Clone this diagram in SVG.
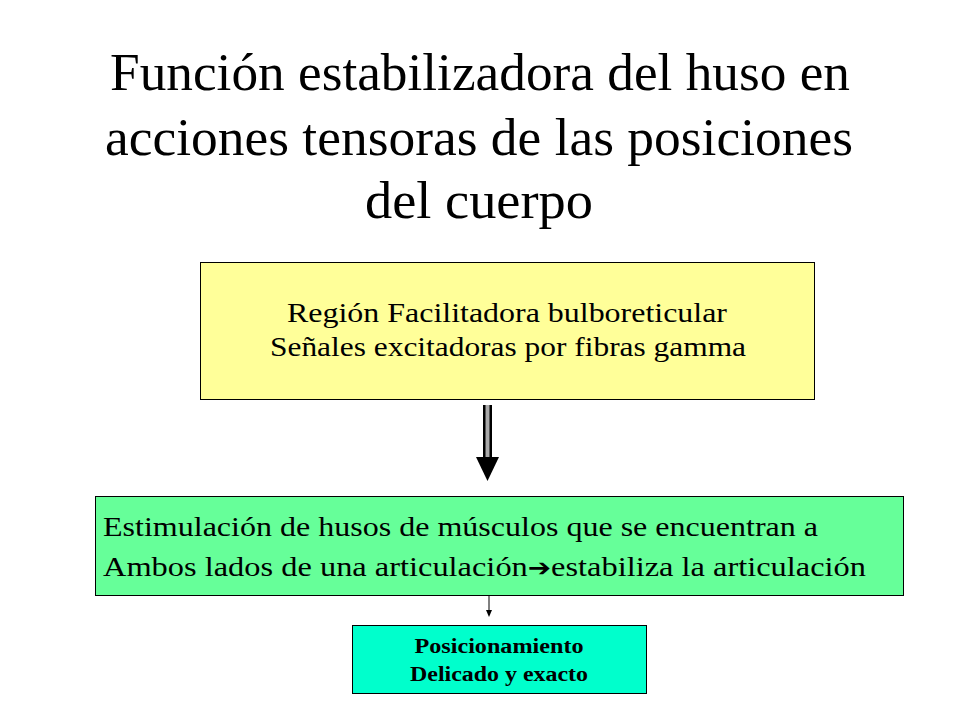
<svg xmlns="http://www.w3.org/2000/svg" width="960" height="720" viewBox="0 0 960 720">
<style>
.t{font-family:"Liberation Serif",serif;fill:#000}
.b{stroke:#000;stroke-width:1}
</style>
<rect width="960" height="720" fill="#fff"/>
<g id="title" class="t" font-size="52" text-anchor="middle">
<text x="480" y="90" textLength="740" lengthAdjust="spacingAndGlyphs">Función estabilizadora del huso en</text>
<text x="479" y="155" textLength="748" lengthAdjust="spacingAndGlyphs">acciones tensoras de las posiciones</text>
<text x="479" y="218" textLength="228" lengthAdjust="spacingAndGlyphs">del cuerpo</text>
</g>
<g id="n1">
<rect class="b" x="200.5" y="262.5" width="614" height="137" fill="#ffff99"/>
<text class="t" font-size="28" text-anchor="middle" x="507" y="322" textLength="440" lengthAdjust="spacingAndGlyphs">Región Facilitadora bulboreticular</text>
<text class="t" font-size="28" text-anchor="middle" x="508" y="356" textLength="476" lengthAdjust="spacingAndGlyphs">Señales excitadoras por fibras gamma</text>
</g>
<g id="n2">
<rect class="b" x="95.5" y="496.5" width="808" height="99" fill="#66ff99"/>
<text class="t" font-size="28" x="103" y="536" textLength="715" lengthAdjust="spacingAndGlyphs">Estimulación de husos de músculos que se encuentran a</text>
<text class="t" font-size="28" x="103" y="576" textLength="763" lengthAdjust="spacingAndGlyphs">Ambos lados de una articulación<tspan font-family="DejaVu Sans,sans-serif" font-weight="bold" font-size="24">➔</tspan>estabiliza la articulación</text>
</g>
<g id="n3">
<rect class="b" x="352.5" y="625.5" width="294" height="68" fill="#00ffcc"/>
<text class="t" font-size="20" font-weight="bold" text-anchor="middle" x="499" y="653" textLength="169" lengthAdjust="spacingAndGlyphs">Posicionamiento</text>
<text class="t" font-size="20" font-weight="bold" text-anchor="middle" x="499" y="681" textLength="178" lengthAdjust="spacingAndGlyphs">Delicado y exacto</text>
</g>
<g id="connectors">
<rect x="483" y="405" width="9" height="53" fill="#000"/>
<rect x="485.5" y="405" width="4" height="53" fill="#aaa"/>
<polygon points="476,457 499,457 487.5,481" fill="#000"/>
<line x1="489" y1="596" x2="489" y2="611" stroke="#000" stroke-width="1"/>
<polygon points="486,610 492,610 489,617" fill="#000"/>
</g>
</svg>
